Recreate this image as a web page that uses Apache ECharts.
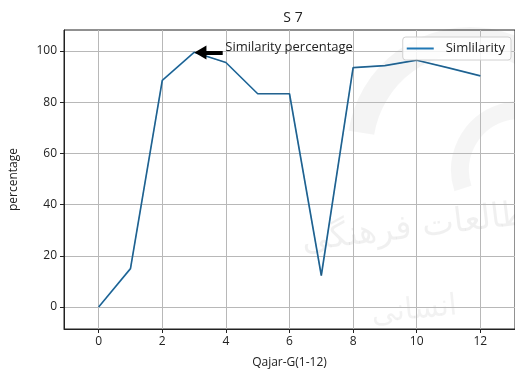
<!DOCTYPE html>
<html>
<head>
<meta charset="utf-8">
<script src="https://cdn.jsdelivr.net/npm/echarts@6/dist/echarts.min.js"></script>
<style>
  html, body { margin: 0; padding: 0; background: #fff; }
  #chart { width: 515px; height: 376px; }
</style>
</head>
<body>
<div id="chart"></div>
<script>
// Similarity per Qajar group (S 7)
const groups = [0, 1, 2, 3, 4, 5, 6, 7, 8, 9, 10, 11, 12];
const similarity = [0, 15, 88.5, 99.5, 95.5, 83.3, 83.3, 12.3, 93.5, 94.3, 96.4, 93.4, 90.3];
const peakIndex = 3;
const titleText = 'S 7';
const xName = 'Qajar-G(1-12)';
const yName = 'percentage';
const seriesName = 'Simlilarity';
const noteText = 'Similarity percentage';

const points = groups.map((g, i) => [g, similarity[i]]);
const peak = points[peakIndex];

const FONT = '"Open Sans", "Noto Sans", sans-serif';
const chart = echarts.init(document.getElementById('chart'), null, { renderer: 'canvas' });

chart.setOption({
  animation: false,
  backgroundColor: '#fff',
  textStyle: { fontFamily: FONT },
  title: {
    text: titleText,
    left: 288, top: 6, textAlign: 'center',
    textStyle: { fontFamily: FONT, fontSize: 14, fontWeight: 'normal', color: '#222' }
  },
  // faint watermark behind the plot
  graphic: [
    { type: 'arc', z: -10, silent: true,
      shape: { cx: 470, cy: 150, r: 110, startAngle: Math.PI * 1.05, endAngle: Math.PI * 1.75 },
      style: { stroke: 'rgba(0,0,0,0.045)', lineWidth: 26, fill: null } },
    { type: 'arc', z: -10, silent: true,
      shape: { cx: 520, cy: 170, r: 60, startAngle: Math.PI * 0.9, endAngle: Math.PI * 1.6 },
      style: { stroke: 'rgba(0,0,0,0.04)', lineWidth: 18, fill: null } },
    { type: 'text', z: -10, silent: true, x: 300, y: 225, rotation: 0.12,
      style: { text: 'ومطالعات فرهنگی', font: '34px "DejaVu Sans"', fill: 'rgba(0,0,0,0.06)' } },
    { type: 'text', z: -10, silent: true, x: 370, y: 300, rotation: 0.1,
      style: { text: 'انسانی', font: '30px "DejaVu Sans"', fill: 'rgba(0,0,0,0.05)' } }
  ],
  legend: {
    data: [{ name: seriesName, icon: 'rect' }],
    right: 4, top: 37,
    itemWidth: 27, itemHeight: 2, itemGap: 6,
    padding: [5, 6, 5, 4],
    borderColor: '#d0d0d0', borderWidth: 1, borderRadius: 3,
    backgroundColor: 'rgba(255,255,255,0.8)',
    textStyle: { fontFamily: FONT, fontSize: 13, color: '#222', padding: [0, 0, 0, 7] }
  },
  grid: {
    left: 61, top: 30, right: -1, bottom: 47,
    show: true, borderColor: '#222', borderWidth: 1, backgroundColor: 'transparent'
  },
  xAxis: {
    type: 'value', min: -1.09, max: 13.09, splitNumber: 7,
    name: xName, nameLocation: 'middle', nameGap: 28,
    nameTextStyle: { fontFamily: FONT, fontSize: 12, color: '#222' },
    axisLine: { show: true, onZero: false, lineStyle: { color: '#222', width: 1 } },
    axisTick: { show: true, length: 4, inside: false, lineStyle: { color: '#222' } },
    axisLabel: { fontFamily: FONT, fontSize: 12, color: '#222', margin: 7,
      showMinLabel: false, showMaxLabel: false },
    splitLine: { show: true, showMinLine: false, showMaxLine: false,
      lineStyle: { color: '#b8b8b8', width: 1 } }
  },
  yAxis: {
    type: 'value', min: -8.6, max: 108.2, splitNumber: 6,
    name: yName, nameLocation: 'middle', nameGap: 44, nameRotate: 90,
    nameTextStyle: { fontFamily: FONT, fontSize: 12, color: '#222' },
    axisLine: { show: true, onZero: false, lineStyle: { color: '#222', width: 1 } },
    axisTick: { show: true, length: 4, inside: false, lineStyle: { color: '#222' } },
    axisLabel: { fontFamily: FONT, fontSize: 12, color: '#222', margin: 7,
      showMinLabel: false, showMaxLabel: false },
    splitLine: { show: true, showMinLine: false, showMaxLine: false,
      lineStyle: { color: '#b8b8b8', width: 1 } }
  },
  series: [
    {
      name: seriesName, type: 'line', data: points,
      symbol: 'none', silent: true, z: 3,
      lineStyle: { color: '#1f77b4', width: 1.7 },
      itemStyle: { color: '#1f77b4' }
    },
    {
      name: 'overlay', type: 'line', data: points,
      symbol: 'none', silent: true, z: 4,
      lineStyle: { color: '#333', width: 0.9, opacity: 0.45 },
      markLine: {
        silent: true, animation: false,
        symbol: ['none', 'triangle'], symbolSize: [14, 12],
        label: { show: false },
        lineStyle: { color: '#000', width: 4, type: 'solid', opacity: 1 },
        data: [[
          { coord: [peak[0] + 0.9, peak[1] - 0.1] },
          { coord: [peak[0] + 0.2, peak[1] - 0.1] }
        ]]
      },
      markPoint: {
        silent: true, symbol: 'rect', symbolSize: 0,
        label: {
          show: true, position: 'right', distance: 0,
          formatter: noteText,
          fontFamily: FONT, fontSize: 13, color: '#222'
        },
        data: [{ coord: [peak[0] + 0.98, peak[1] + 2.1] }]
      }
    }
  ]
});
</script>
</body>
</html>
